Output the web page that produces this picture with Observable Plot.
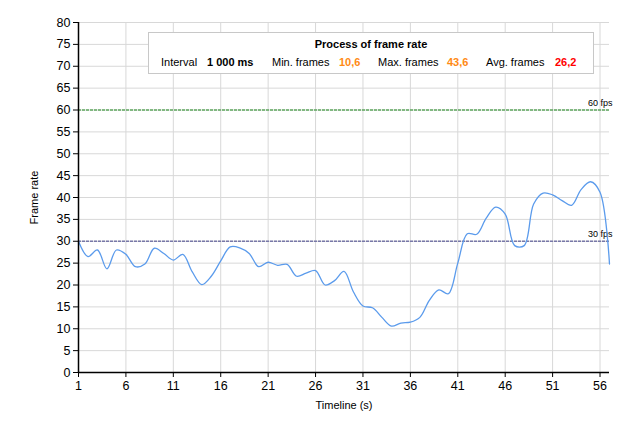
<!DOCTYPE html>
<html>
<head>
<meta charset="utf-8">
<script src="https://cdn.jsdelivr.net/npm/d3@7"></script>
<script src="https://cdn.jsdelivr.net/npm/@observablehq/plot@0.6"></script>
<style>
  html, body { margin: 0; padding: 0; background: #fff; }
  #wrap { position: relative; width: 633px; height: 431px; font-family: "Liberation Sans", Arial, sans-serif; }
  #legend {
    position: absolute; left: 148px; top: 32px; width: 446px; height: 42px;
    background: #fff; border: 1px solid #c8c8c8; box-sizing: border-box;
    font-size: 11px; color: #000;
  }
  #legend .title { position: absolute; left: 0; right: 0; top: 5px; text-align: center; font-weight: bold; }
  #legend .row { position: absolute; top: 23px; left: 0; white-space: nowrap; }
  #legend .row span { position: absolute; }
  .b { font-weight: bold; }
</style>
</head>
<body>
<div id="wrap">
  <div id="chart"></div>
  <div id="legend"></div>
</div>
<script>
const seconds = [1,2,3,4,5,6,7,8,9,10,11,12,13,14,15,16,17,18,19,20,21,22,23,24,25,26,27,28,29,30,31,32,33,34,35,36,37,38,39,40,41,42,43,44,45,46,47,48,49,50,51,52,53,54,55,56,57];
const fps = [30.0,26.5,28.0,23.7,28.0,27.0,24.2,24.8,28.4,27.2,
             25.7,27.0,23.0,20.1,22.0,25.5,28.7,28.5,27.2,24.2,
             25.2,24.5,24.7,22.0,22.7,23.3,20.0,21.0,23.1,18.4,
             15.2,14.8,12.6,10.6,11.3,11.5,12.6,16.5,18.9,18.0,
             25.0,31.7,31.6,35.3,37.8,36.2,29.0,29.0,38.5,41.0,
             40.6,39.3,38.2,41.8,43.6,41.2,24.8];
const xTicks = [1,6,11,16,21,26,31,36,41,46,51,56];
const yTicks = [0,5,10,15,20,25,30,35,40,45,50,55,60,65,70,75,80];
const thresholds = [60, 30];
const thresholdLabels = ["60 fps", "30 fps"];
const thresholdColors = ["#5fa85f", "#7878a8"];

const legendTitle = "Process of frame rate";
const legendItems = [
  {label: "Interval", value: "1 000 ms", color: "#000"},
  {label: "Min. frames", value: "10,6", color: "#ff8a14"},
  {label: "Max. frames", value: "43,6", color: "#ff8a14"},
  {label: "Avg. frames", value: "26,2", color: "#ff0000"}
];

const data = seconds.map((s, i) => ({s, v: fps[i]}));
const thr = thresholds.map((t, i) => ({t, label: thresholdLabels[i], color: thresholdColors[i]}));

const chart = Plot.plot({
  width: 633,
  height: 431,
  marginLeft: 78,
  marginRight: 24,
  marginTop: 22,
  marginBottom: 59,
  style: {fontFamily: "'Liberation Sans', Arial, sans-serif", fontSize: "12px", color: "#000", background: "#fff"},
  x: {domain: [1, 57]},
  y: {domain: [0, 80]},
  marks: [
    Plot.gridX(xTicks, {stroke: "#d8d8d8", strokeOpacity: 1}),
    Plot.gridY(yTicks, {stroke: "#d8d8d8", strokeOpacity: 1}),
    Plot.ruleY(thr, {y: "t", stroke: "color", strokeWidth: 1.5, strokeDasharray: "3,1"}),
    Plot.text(thr, {x: 57, y: "t", text: "label", textAnchor: "end", dx: 3, dy: -7, fontSize: 9, fill: "#000"}),
    Plot.line(data, {x: "s", y: "v", curve: "catmull-rom", stroke: "#5b9bec", strokeWidth: 1.3}),
    Plot.axisX({ticks: xTicks, tickSize: 5, tickPadding: 4, fontSize: 12.5, label: "Timeline (s)", labelAnchor: "center", labelArrow: "none", labelOffset: 36}),
    Plot.axisY({ticks: yTicks, tickSize: 5, tickPadding: 3, fontSize: 12.5, label: "Frame rate", labelAnchor: "center", labelArrow: "none", labelOffset: 48}),
    Plot.ruleX([1], {stroke: "#000", strokeWidth: 1.5}),
    Plot.ruleY([0], {stroke: "#000", strokeWidth: 1.5})
  ]
});
// axis label font size
d3.select(chart).selectAll("g[aria-label='x-axis label'] text, g[aria-label='y-axis label'] text").style("font-size", "11px");
document.getElementById("chart").appendChild(chart);

// legend overlay
const lg = document.getElementById("legend");
const t = document.createElement("div");
t.className = "title"; t.textContent = legendTitle; lg.appendChild(t);
const row = document.createElement("div"); row.className = "row"; lg.appendChild(row);
const labelX = [12, 123, 229, 337];
const valueX = [58, 190, 298, 406];
legendItems.forEach((it, i) => {
  const a = document.createElement("span"); a.textContent = it.label; a.style.left = labelX[i] + "px"; row.appendChild(a);
  const b = document.createElement("span"); b.textContent = it.value; b.className = "b"; b.style.left = valueX[i] + "px"; b.style.color = it.color; row.appendChild(b);
});
</script>
</body>
</html>
